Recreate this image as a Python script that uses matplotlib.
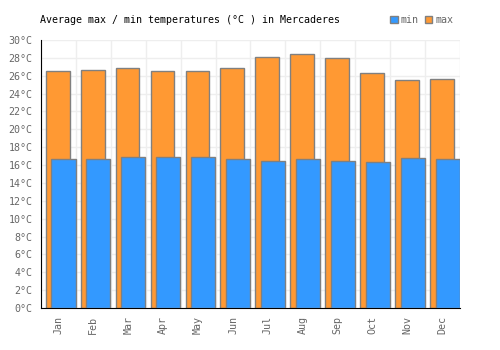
import numpy as np
import matplotlib.pyplot as plt

# Data
months = ["Jan", "Feb", "Mar", "Apr", "May", "Jun",
          "Jul", "Aug", "Sep", "Oct", "Nov", "Dec"]
t_max = [26.5, 26.6, 26.9, 26.5, 26.5, 26.9, 28.1, 28.4, 28.0, 26.3, 25.5, 25.6]
t_min = [16.7, 16.7, 16.9, 16.9, 16.9, 16.7, 16.5, 16.7, 16.5, 16.3, 16.8, 16.7]

plt.rcParams['font.family'] = 'DejaVu Sans Mono'
fs = 7.2

fig = plt.figure(figsize=(5, 3.5), dpi=100)
ax = fig.add_axes([0.082, 0.12, 0.838, 0.766])

x = np.arange(len(months))
ax.bar(x - 0.02, t_max, width=0.68, color="#ff9933", edgecolor="#808080",
       linewidth=1, label="max", zorder=2)
ax.bar(x + 0.145, t_min, width=0.69, color="#3399ff", edgecolor="#808080",
       linewidth=1, label="min", zorder=3)

ax.set_xlim(-0.5, 11.5)
ax.set_ylim(0, 30)
ax.set_yticks(range(0, 31, 2))
ax.set_yticklabels([f"{v}°C" for v in range(0, 31, 2)])
ax.set_xticks(x)
ax.set_xticklabels(months, rotation=90)

# grid: horizontal every 2 deg, vertical at month boundaries
ax.set_xticks(np.arange(-0.5, 12, 1), minor=True)
ax.grid(axis="y", color="#eeeeee", linewidth=1, zorder=0)
ax.grid(axis="x", which="minor", color="#eeeeee", linewidth=1, zorder=0)
ax.set_axisbelow(True)

ax.tick_params(axis="both", which="both", length=0, colors="#666666", labelsize=fs, pad=6)
for s in ["top", "right"]:
    ax.spines[s].set_visible(False)
ax.spines["left"].set_color("black")
ax.spines["bottom"].set_color("black")

fig.text(0.08, 0.942, "Average max / min temperatures (°C ) in Mercaderes",
         fontsize=fs, color="black", va="center")

h, l = ax.get_legend_handles_labels()
leg = fig.legend(h[::-1], l[::-1], loc="center right", bbox_to_anchor=(0.916, 0.943),
                 ncol=2, frameon=False, fontsize=fs, handlelength=0.75, handleheight=0.75,
                 handletextpad=0.3, columnspacing=0.6, borderpad=0)
for t in leg.get_texts():
    t.set_color("#666666")

fig.savefig("out.png", dpi=100)
